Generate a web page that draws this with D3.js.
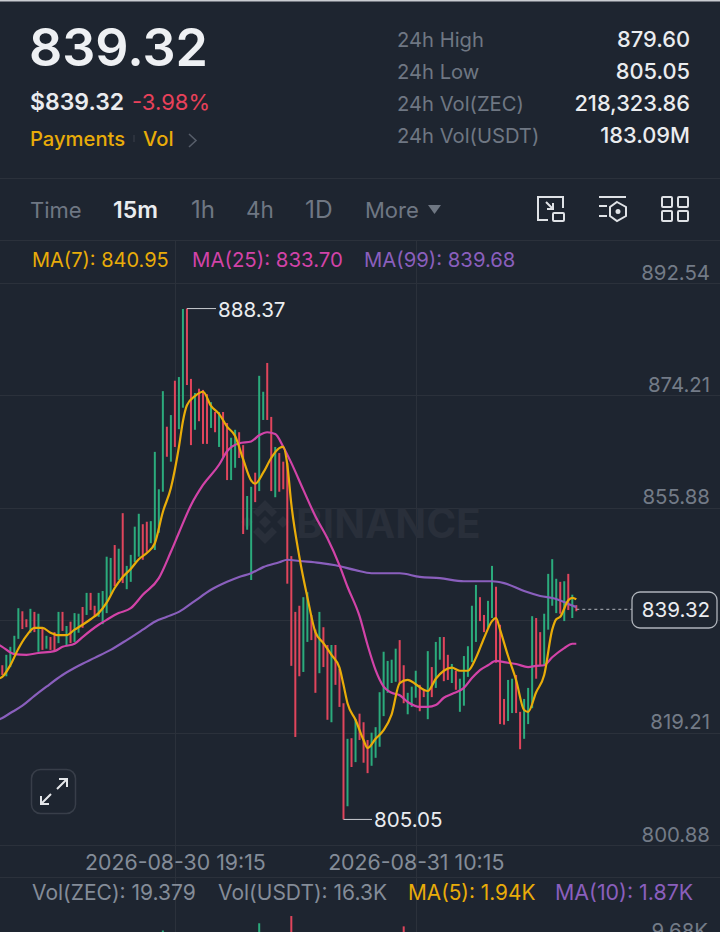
<!DOCTYPE html>
<html>
<head>
<meta charset="utf-8">
<script src="https://cdn.jsdelivr.net/npm/d3@7"></script>
<style>
  html, body { margin: 0; padding: 0; background: #1e2530; overflow: hidden; }
  svg { display: block; font-family: Inter, "Noto Sans", sans-serif; }
</style>
</head>
<body>
<svg id="chart" width="720" height="932"></svg>
<script>
// candles, oldest first, one every 15m
const candleHigh = [
  830.2,831.9,833.2,835.0,839.5,839.0,837.7,839.4,838.9,838.6,
  836.3,835.0,834.8,835.6,838.9,838.9,836.6,837.3,838.7,838.6,
  839.7,842.0,842.0,839.9,842.0,842.3,847.9,847.7,849.8,849.2,
  855.0,846.4,848.2,852.8,854.9,853.2,853.6,853.7,865.0,858.9,
  874.9,869.1,871.0,876.6,877.2,888.3,888.37,876.9,874.6,875.3,
  875.1,874.4,873.1,871.5,871.5,871.5,869.7,867.3,868.6,868.2,
  866.1,857.8,859.3,861.6,877.4,874.8,879.5,870.7,865.8,864.8,
  863.4,863.2,848.0,838.9,839.9,841.3,842.1,838.4,836.0,838.9,
  836.4,833.5,833.5,833.5,829.6,824.0,818.2,818.3,821.4,822.3,
  820.9,818.0,819.2,820.1,825.8,832.4,830.9,831.1,832.9,834.3,
  830.2,825.7,826.7,829.3,827.0,826.2,832.5,829.9,834.0,834.8,
  834.8,831.9,830.4,829.3,828.0,831.7,833.3,839.9,843.3,841.3,
  838.4,840.7,846.4,843.0,836.8,824.7,827.8,828.0,828.6,822.6,
  824.7,826.5,838.2,837.9,835.6,838.6,845.1,847.5,844.3,843.8,
  843.9,845.1,841.7,840.0
];
const candleLow = [
  828.6,828.4,829.9,832.2,834.5,836.1,836.4,835.5,835.6,832.4,
  832.7,832.9,832.7,832.4,833.8,835.8,833.3,833.8,834.0,835.5,
  836.3,838.4,839.2,838.1,838.1,836.9,838.7,841.7,843.1,844.1,
  843.6,842.6,843.8,847.0,847.9,847.4,848.7,850.1,849.0,851.8,
  858.5,864.2,863.4,865.8,868.7,872.2,875.9,866.1,868.6,870.0,
  866.3,866.3,868.9,868.2,865.8,864.2,860.4,860.4,862.4,864.0,
  851.6,852.3,844.1,856.8,858.6,870.2,870.2,858.6,857.6,858.5,
  858.9,843.5,830.1,818.5,828.4,829.1,834.0,834.3,825.7,828.9,
  829.9,821.3,820.9,827.0,823.4,805.05,807.2,813.6,814.4,818.0,
  814.3,812.6,813.8,815.1,816.9,821.9,825.7,827.3,827.5,827.3,
  824.0,822.2,823.4,824.9,822.7,825.0,821.4,825.0,826.5,831.1,
  827.6,827.8,827.3,826.2,822.6,823.6,828.3,830.7,834.0,837.4,
  835.6,836.3,837.9,830.6,820.6,820.5,821.1,822.4,822.4,816.5,
  818.2,820.6,823.2,828.0,830.2,830.2,836.0,839.9,838.7,838.6,
  837.4,839.2,837.9,839.0
];
const candleUp = [
  0,1,1,1,1,0,0,1,0,1,
  0,1,0,0,1,0,1,0,1,1,
  0,1,0,0,1,1,1,1,0,1,
  0,1,1,1,1,0,0,1,1,1,
  1,0,1,0,1,1,0,0,1,0,
  0,0,1,0,1,0,0,1,1,0,
  0,1,1,0,1,1,0,0,1,0,
  0,0,0,0,0,1,1,0,0,1,
  0,0,1,0,0,0,1,0,1,0,
  0,0,1,1,1,1,1,1,1,0,
  0,1,1,1,0,0,1,0,1,1,
  0,0,1,0,1,1,1,1,1,0,
  0,1,1,0,0,0,1,1,0,0,
  1,1,1,0,0,1,1,1,1,0,
  1,0,1,0
];

// moving averages, at the candle numbers in the *Idx lists
const ma7Idx = [-1,0,2,4,6,8,10,12,14,16,18,20,22,24,26,28,30,32,34,36,38,40,42,44,45,46,48,50,52,54,56,58,60,62,63,65,67,69,70,71,72,74,76,78,80,82,84,85,86,88,90,91,93,95,97,99,101,103,105,106,108,110,112,114,116,118,120,122,123,124,126,128,130,131,133,135,137,138,139,141,142,143];
const ma7 = [828.0,828.3,830.2,832.9,835.0,836.3,836.3,835.5,835.1,835.1,836.0,836.8,837.7,838.7,840.4,842.8,844.6,845.9,847.5,848.5,850.1,855.2,859.1,865.8,870.0,872.6,874.1,874.8,872.5,871.2,869.1,867.6,863.8,860.3,859.8,861.6,864.0,865.6,865.8,862.9,856.5,847.9,841.3,835.6,833.8,831.9,829.8,827.0,824.0,821.3,818.0,816.7,818.2,819.6,822.2,827.3,827.8,827.1,826.2,826.0,828.0,829.3,829.8,829.3,829.3,831.4,834.6,837.4,837.9,836.0,831.7,827.8,822.9,822.6,825.8,828.6,836.0,837.7,838.1,840.8,841.2,840.95];
const ma25Idx = [-1,0,3,6,9,13,15,18,20,24,26,29,32,35,39,42,44,47,50,54,56,59,62,64,66,68,70,72,75,78,81,84,86,89,91,93,95,97,99,101,104,106,108,110,112,115,117,119,121,123,125,128,131,133,135,137,140,142,143];
const ma25 = [833.6,833.2,832.0,831.9,832.2,832.5,833.2,833.7,834.8,836.8,837.6,838.7,839.5,841.7,844.4,848.7,851.8,856.3,859.6,862.9,865.1,866.4,866.7,867.7,868.2,867.9,865.8,863.2,858.8,854.5,850.9,846.5,843.0,838.2,833.5,829.4,826.7,825.7,825.3,824.2,823.4,823.4,823.7,824.9,825.5,826.5,828.1,829.4,830.2,830.9,830.7,830.4,829.9,830.1,830.2,831.5,833.0,833.7,833.7];
const ma99Idx = [-1,0,2,5,8,11,15,19,23,27,31,35,38,41,44,48,52,56,59,62,65,69,71,74,79,83,88,92,99,104,109,115,122,125,130,134,138,141,143];
const ma99 = [821.3,821.6,822.4,823.6,825.2,826.7,828.6,830.1,831.4,832.7,834.3,836.0,837.3,838.1,838.9,840.7,842.5,843.8,844.6,845.2,846.2,847.0,847.4,847.2,846.9,846.5,845.7,845.2,845.2,844.6,844.4,843.9,843.9,843.6,842.3,841.5,841.0,840.2,839.68];

// only the tallest volume bars show at the foot of the picture, in K
const volIdx = [40,64,72,100];
const volValue = [10.6,11.3,12.0,11.0];
const volUp = [1,1,0,0];

const priceTicks = [892.54,874.21,855.88,837.55,819.21,800.88];
// 837.55 sits behind the last price tag
const priceLabels = [892.54,874.21,855.88,819.21,800.88];
const timeTicks = [43,103];
const timeLabels = ["2026-08-30 19:15","2026-08-31 10:15"];

const statLabels = ["24h High","24h Low","24h Vol(ZEC)","24h Vol(USDT)"];
const statValues = ["879.60","805.05","218,323.86","183.09M"];
const intervals = ["Time","15m","1h","4h","1D","More"];

const bg = "#1e2530", grid = "#2b313b", grey = "#848c98", white = "#eaecef";
const green = "#2bab7c", red = "#e0455c", yellow = "#e9ac09", pink = "#d243a8", purple = "#8a5fbd";

const svg = d3.select("#chart");

const x = d3.scaleLinear().domain([0, 143]).range([2.3, 576.3]);
const y = d3.scaleLinear().domain([800.88, 892.54]).range([845, 283]);
const yVol = d3.scaleLinear().domain([0, 9.68]).range([1040, 940]);

function label(s, px, py, size, fill, weight, anchor) {
  return svg.append("text")
    .attr("x", px).attr("y", py)
    .attr("font-size", size)
    .attr("font-weight", weight || 400)
    .attr("text-anchor", anchor || "start")
    .attr("fill", fill)
    .text(s);
}

svg.append("rect").attr("width", 720).attr("height", 932).attr("fill", bg);
svg.append("rect").attr("width", 720).attr("height", 1.5).attr("fill", "#c9ccd1");

// header
label("839.32", 29, 66, 52, "#eef0f3", 600);
label("$839.32", 30, 110, 23, white, 600);
label("-3.98%", 132, 110, 22, "#e8415a", 400);
label("Payments", 30, 146, 20.2, yellow, 500);
svg.append("line").attr("x1", 134).attr("x2", 134).attr("y1", 135).attr("y2", 142).attr("stroke", "#3a404b");
label("Vol", 143, 146, 20.2, yellow, 500);
svg.append("path").attr("d", "M189,134 L196,140.5 L189,147").attr("fill", "none").attr("stroke", "#565d69").attr("stroke-width", 1.6);

statLabels.forEach(function(s, i) {
  label(s, 397, 47 + i * 32, 20.2, "#6f7783");
  label(statValues[i], 690, 47 + i * 32, 21.8, white, 500, "end");
});

svg.append("line").attr("x1", 0).attr("x2", 720).attr("y1", 178.5).attr("y2", 178.5).attr("stroke", grid);
svg.append("line").attr("x1", 0).attr("x2", 720).attr("y1", 240.5).attr("y2", 240.5).attr("stroke", grid);

// interval bar
const intervalX = [30, 113, 191, 246, 305, 365];
const intervalSize = [22, 23, 24, 22.5, 24.5, 22];
intervals.forEach(function(s, i) {
  label(s, intervalX[i], 218, intervalSize[i], i == 1 ? white : "#6f7783", i == 1 ? 600 : 400);
});
svg.append("path").attr("d", "M428,205 L441,205 L434.5,214 Z").attr("fill", "#6f7783");

const icons = svg.append("g").attr("fill", "none").attr("stroke", "#dfe2e6").attr("stroke-width", 2);
icons.append("path").attr("d", "M548,220 L538,220 L538,197 L563,197 L563,208");
icons.append("rect").attr("x", 553).attr("y", 213).attr("width", 11).attr("height", 8).attr("rx", 1);
icons.append("path").attr("d", "M546,202 L553,209 M553,203 L553,209 L547,209");
icons.append("path").attr("d", "M599,197 L626,197 M599,206 L607,206 M599,216 L607,216");
icons.append("path").attr("d", "M617,202 L626,207 L626,216 L617,221 L610,216 L610,207 Z");
icons.append("circle").attr("cx", 618).attr("cy", 211.5).attr("r", 1.5).attr("fill", "#dfe2e6");
[[662,197],[678,197],[662,211],[678,211]].forEach(function(p) {
  icons.append("rect").attr("x", p[0]).attr("y", p[1]).attr("width", 10).attr("height", 10).attr("rx", 1);
});

// grid
const gridG = svg.append("g").attr("stroke", grid).attr("stroke-width", 1);
priceTicks.forEach(function(t) {
  gridG.append("line").attr("x1", 0).attr("x2", 720).attr("y1", Math.round(y(t)) + 0.5).attr("y2", Math.round(y(t)) + 0.5);
});
gridG.append("line").attr("x1", 0).attr("x2", 720).attr("y1", 877.5).attr("y2", 877.5);
timeTicks.forEach(function(t) {
  gridG.append("line").attr("x1", Math.round(x(t)) + 0.5).attr("x2", Math.round(x(t)) + 0.5).attr("y1", 241).attr("y2", 932);
});

// watermark
const mark = svg.append("g").attr("fill", "#292f3a").attr("transform", "translate(265,522)");
mark.append("path").attr("d", "M0,-6 L6,0 L0,6 L-6,0 Z");
mark.append("path").attr("d", "M-18,-3 L-12,3 L-18,9 L-24,3 Z").attr("transform", "translate(0,-3)");
mark.append("path").attr("d", "M18,-3 L24,3 L18,9 L12,3 Z").attr("transform", "translate(0,-3)");
mark.append("path").attr("d", "M0,-22 L12,-10 L7,-5 L0,-12 L-7,-5 L-12,-10 Z");
mark.append("path").attr("d", "M0,22 L12,10 L7,5 L0,12 L-7,5 L-12,10 Z");
label("BINANCE", 296, 538, 40.5, "#292f3a", 700);

// axes: labels sit above their grid line
const priceAxis = d3.axisLeft(y).tickValues(priceLabels).tickSize(0).tickPadding(0)
  .tickFormat(function(d) { return d.toFixed(2); });
svg.append("g").attr("transform", "translate(710,0)").call(priceAxis)
  .call(function(g) { g.select(".domain").remove(); })
  .selectAll("text")
    .attr("dy", -11 + 7)
    .attr("font-size", 20.4)
    .attr("font-family", "Inter")
    .attr("fill", "#737b87");

const timeAxis = d3.axisBottom(x).tickValues(timeTicks).tickSize(0).tickPadding(0)
  .tickFormat(function(d, i) { return timeLabels[i]; });
svg.append("g").attr("transform", "translate(0,855)").call(timeAxis)
  .call(function(g) { g.select(".domain").remove(); })
  .selectAll("text")
    .attr("dy", 14.5)
    .attr("font-size", 21.3)
    .attr("font-family", "Inter")
    .attr("fill", grey);

// candles
svg.append("g").selectAll("rect")
  .data(candleHigh)
  .join("rect")
    .attr("x", function(d, i) { return x(i) - 1; })
    .attr("width", 2)
    .attr("y", function(d) { return y(d); })
    .attr("height", function(d, i) { return y(candleLow[i]) - y(d); })
    .attr("fill", function(d, i) { return candleUp[i] ? green : red; });

// volume tips, cut by the bottom of the window
svg.append("g").selectAll("rect")
  .data(volValue)
  .join("rect")
    .attr("x", function(d, i) { return x(volIdx[i]) - 1; })
    .attr("width", 2)
    .attr("y", function(d) { return yVol(d); })
    .attr("height", function(d) { return yVol(0) - yVol(d); })
    .attr("fill", function(d, i) { return volUp[i] ? green : red; });

// moving averages
const line = d3.line()
  .x(function(d) { return x(d[0]); })
  .y(function(d) { return y(d[1]); })
  .curve(d3.curveMonotoneX);

function maLine(idx, values, color) {
  svg.append("path")
    .attr("d", line(idx.map(function(d, i) { return [d, values[i]]; })))
    .attr("fill", "none")
    .attr("stroke", color)
    .attr("stroke-width", 2.2);
}
maLine(ma99Idx, ma99, purple);
maLine(ma25Idx, ma25, pink);
maLine(ma7Idx, ma7, yellow);

// high / low markers
const hiY = y(888.37), loY = y(805.05);
svg.append("line").attr("x1", x(46)).attr("x2", 216).attr("y1", hiY).attr("y2", hiY).attr("stroke", "#c9ccd1");
label("888.37", 218, hiY + 8, 20.6, white);
svg.append("line").attr("x1", x(85)).attr("x2", 372).attr("y1", loY).attr("y2", loY).attr("stroke", "#c9ccd1");
label("805.05", 374, loY + 8, 20.6, white);

// last price
const lastY = y(839.32);
svg.append("line").attr("x1", x(143)).attr("x2", 632).attr("y1", lastY).attr("y2", lastY)
  .attr("stroke", "#b0b5bc").attr("stroke-dasharray", "3,3");
svg.append("rect").attr("x", 632).attr("y", 592).attr("width", 85).attr("height", 36).attr("rx", 8)
  .attr("fill", bg).attr("stroke", "#aeb3ba").attr("stroke-width", 1.3);
label("839.32", 676, 617, 20.6, white, 400, "middle");

// legends
label("MA(7): 840.95", 32, 267, 20, yellow);
label("MA(25): 833.70", 192, 267, 20.4, pink);
label("MA(99): 839.68", 364, 267, 20.3, purple);

label("Vol(ZEC): 19.379", 32, 900, 21, grey);
label("Vol(USDT): 16.3K", 218, 900, 21, grey);
label("MA(5): 1.94K", 408, 900, 20.8, yellow);
label("MA(10): 1.87K", 555, 900, 21.4, purple);
label("9.68K", 708, 938, 20.4, "#737b87", 400, "end");

// fullscreen button
svg.append("rect").attr("x", 31.5).attr("y", 769.5).attr("width", 44).attr("height", 44).attr("rx", 9)
  .attr("fill", bg).attr("stroke", "#383e49").attr("stroke-width", 1.5);
svg.append("path")
  .attr("d", "M57,789 L67,779 M59,779 L67,779 L67,787 M51,794 L41,804 M41,796 L41,804 L49,804")
  .attr("fill", "none").attr("stroke", "#e4e6e9").attr("stroke-width", 2);
</script>
</body>
</html>
